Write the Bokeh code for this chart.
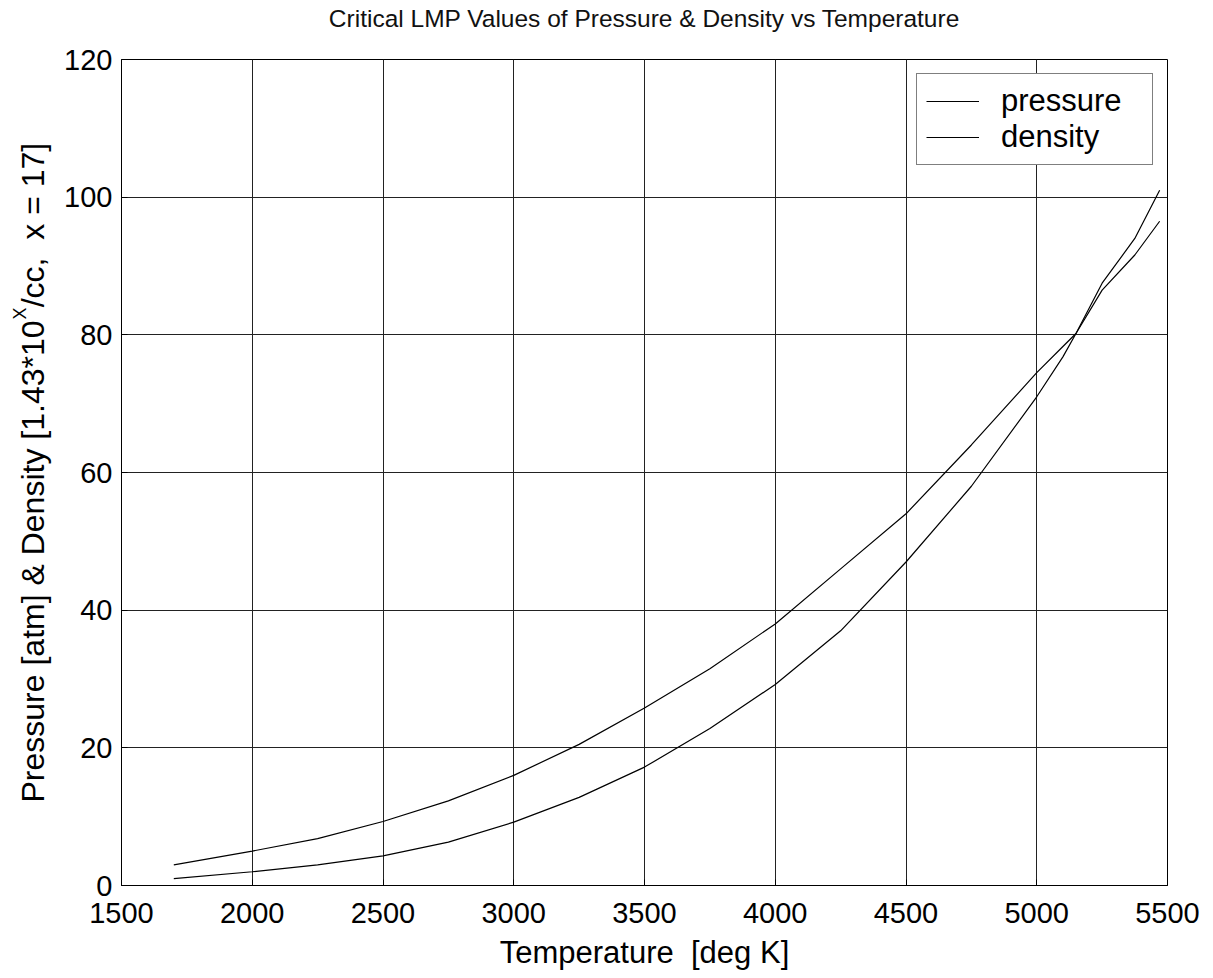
import math
from bokeh.plotting import figure
from bokeh.models import Range1d, FixedTicker, Legend, LegendItem
from bokeh.layouts import row, column
from bokeh.core.properties import value
from bokeh.embed import file_html
from bokeh.resources import INLINE

# ---- data ----
temperature = [1700, 2000, 2250, 2500, 2750, 3000, 3250, 3500, 3750, 4000,
               4250, 4500, 4750, 5000, 5100, 5150, 5250, 5375, 5470]
pressure = [3.0, 5.0, 6.8, 9.3, 12.3, 16.0, 20.5, 25.8, 31.5, 38.0,
            46.0, 54.0, 64.0, 74.5, 78.3, 80.2, 86.5, 91.6, 96.5]
density = [1.0, 2.0, 3.0, 4.3, 6.3, 9.2, 12.8, 17.2, 22.8, 29.2,
           37.0, 47.0, 58.0, 71.0, 76.8, 80.2, 87.5, 94.0, 101.0]
x_ticks = [1500, 2000, 2500, 3000, 3500, 4000, 4500, 5000, 5500]
y_ticks = [0, 20, 40, 60, 80, 100, 120]

title_text = "Critical LMP Values of Pressure & Density vs Temperature"
x_label = "Temperature\u00a0 [deg K]"
y_label_parts = ["Pressure [atm] & Density [1.43*10", "X", "/cc,\u00a0 x = 17]"]

FONT = "Liberation Sans"
W, H = 1213, 978
LEFT_W = 56
TOP_H = 38

def strip(width, height):
    f = figure(width=width, height=height, x_range=Range1d(0, width),
               y_range=Range1d(0, height), x_axis_type=None, y_axis_type=None,
               output_backend="svg", toolbar_location=None, min_border=0)
    f.outline_line_color = None
    f.grid.visible = False
    f.background_fill_color = "white"
    f.border_fill_color = "white"
    return f

# ---- top strip: title ----
top = strip(W, TOP_H)
top.text(x=[644], y=[TOP_H - 27 + 8.6], text=[title_text], text_align="center",
         text_baseline="alphabetic", text_font=value(FONT),
         text_font_size="24.5px", text_color="#111111")

# ---- left strip: rotated y-axis label with superscript ----
BODY_H = H - TOP_H
lab = strip(LEFT_W, BODY_H)
lab.text(x=[32], y=[H - 335], text=[y_label_parts[0]], angle=math.pi / 2,
         text_align="right", text_baseline="alphabetic",
         text_font=value(FONT), text_font_size="32px", text_color="black")
lab.text(x=[19.5], y=[H - 334], text=[y_label_parts[1]], angle=math.pi / 2,
         text_align="left", text_baseline="alphabetic",
         text_font=value(FONT), text_font_size="18px", text_color="black")
lab.text(x=[32], y=[H - 320], text=[y_label_parts[2]], angle=math.pi / 2,
         text_align="left", text_baseline="alphabetic",
         text_font=value(FONT), text_font_size="32px", text_color="black")

# ---- main plot ----
p = figure(width=W - LEFT_W, height=BODY_H,
           x_range=Range1d(1500, 5500), y_range=Range1d(0, 120),
           output_backend="svg", toolbar_location=None,
           min_border_left=121 - LEFT_W, min_border_right=W - 1167,
           min_border_top=59 - TOP_H, min_border_bottom=H - 885)
p.background_fill_color = "white"
p.border_fill_color = "white"
p.outline_line_color = "black"
p.outline_line_width = 1

r1 = p.line(temperature, pressure, line_color="black", line_width=1.2)
r2 = p.line(temperature, density, line_color="black", line_width=1.2)

p.xaxis.ticker = FixedTicker(ticks=x_ticks)
p.yaxis.ticker = FixedTicker(ticks=y_ticks)
for ax in (p.xaxis[0], p.yaxis[0]):
    ax.major_label_text_font = FONT
    ax.major_label_text_font_size = "29px"
    ax.major_label_text_color = "black"
    ax.major_tick_in = 6
    ax.major_tick_out = 0
    ax.minor_tick_line_color = None
    ax.axis_line_color = "black"
    ax.major_tick_line_color = "black"
    ax.axis_label_text_font = FONT
    ax.axis_label_text_font_style = "normal"
    ax.axis_label_text_color = "black"
p.xaxis.major_label_standoff = 17
p.yaxis.major_label_standoff = 9
p.xaxis.axis_label = x_label
p.xaxis.axis_label_text_font_size = "31px"
p.xaxis.axis_label_standoff = 9

p.xgrid.grid_line_color = "#222222"
p.ygrid.grid_line_color = "#222222"
p.xgrid.grid_line_width = 1
p.ygrid.grid_line_width = 1

legend = Legend(items=[LegendItem(label="pressure", renderers=[r1]),
                       LegendItem(label="density", renderers=[r2])],
                location="top_right")
legend.margin = 14
legend.padding = 9
legend.spacing = 0
legend.glyph_width = 53
legend.label_standoff = 22
legend.label_width = 142
legend.label_text_font = FONT
legend.label_text_font_size = "31px"
legend.label_text_color = "black"
legend.border_line_color = "black"
legend.border_line_width = 1
legend.background_fill_color = "white"
legend.background_fill_alpha = 1
p.add_layout(legend)

layout = column(top, row(lab, p))
open("out.html", "w").write(file_html(layout, INLINE))
